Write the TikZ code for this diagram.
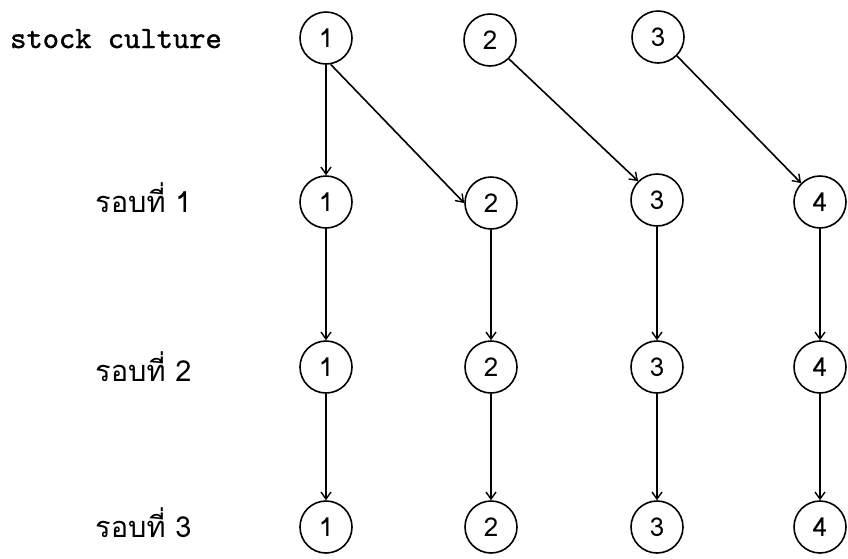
\documentclass[tikz,border=0pt]{standalone}
\usepackage{fontspec}
\newfontfamily\thaifont[Script=Thai]{Loma}
\newfontfamily\monofont{lmmono10-regular.otf}[FakeBold=1.2]
\usetikzlibrary{arrows.meta}
\tikzset{
  cnode/.style={circle,draw,line width=1.6pt,minimum size=52pt,inner sep=0pt,font=\thaifont\fontsize{26}{26}\selectfont},
  conn/.style={line width=1.6pt,-{Straight Barb[length=7pt,width=10pt,line width=1.4pt]}},
  thlabel/.style={anchor=base west,inner sep=0pt,font=\thaifont\fontsize{29}{29}\selectfont},
  stlabel/.style={anchor=base west,inner sep=0pt,font=\monofont\fontsize{31}{31}\selectfont}
}
\begin{document}
\begin{tikzpicture}[x=1pt,y=-1pt]
\useasboundingbox (0,0) rectangle (848,558);
% labels
\node[stlabel] (ls) at (10,48) {stock culture};
\node[thlabel] (l1) at (95,212) {รอบที่ 1};
\node[thlabel] (l2) at (95,381) {รอบที่ 2};
\node[thlabel] (l3) at (95,537) {รอบที่ 3};
% top row
\node[cnode] (t1) at (326,38) {1};
\node[cnode] (t2) at (490,40) {2};
\node[cnode] (t3) at (658,37) {3};
% round 1
\node[cnode] (a1) at (326,202) {1};
\node[cnode] (a2) at (491,203) {2};
\node[cnode] (a3) at (657,200) {3};
\node[cnode] (a4) at (820,202) {4};
% round 2
\node[cnode] (b1) at (326,367) {1};
\node[cnode] (b2) at (491,367) {2};
\node[cnode] (b3) at (657,367) {3};
\node[cnode] (b4) at (820,367) {4};
% round 3
\node[cnode] (c1) at (326,527) {1};
\node[cnode] (c2) at (491,527) {2};
\node[cnode] (c3) at (657,527) {3};
\node[cnode] (c4) at (820,527) {4};
% connectors
\draw[conn] (t1.south) -- (a1.north);
\draw[conn] (t1.-80) -- (a2.west);
\draw[conn] (t2.south east) -- (a3.north west);
\draw[conn] (t3.south east) -- (a4.north west);
\draw[conn] (a1.south) -- (b1.north);
\draw[conn] (a2.south) -- (b2.north);
\draw[conn] (a3.south) -- (b3.north);
\draw[conn] (a4.south) -- (b4.north);
\draw[conn] (b1.south) -- (c1.north);
\draw[conn] (b2.south) -- (c2.north);
\draw[conn] (b3.south) -- (c3.north);
\draw[conn] (b4.south) -- (c4.north);
\end{tikzpicture}
\end{document}
